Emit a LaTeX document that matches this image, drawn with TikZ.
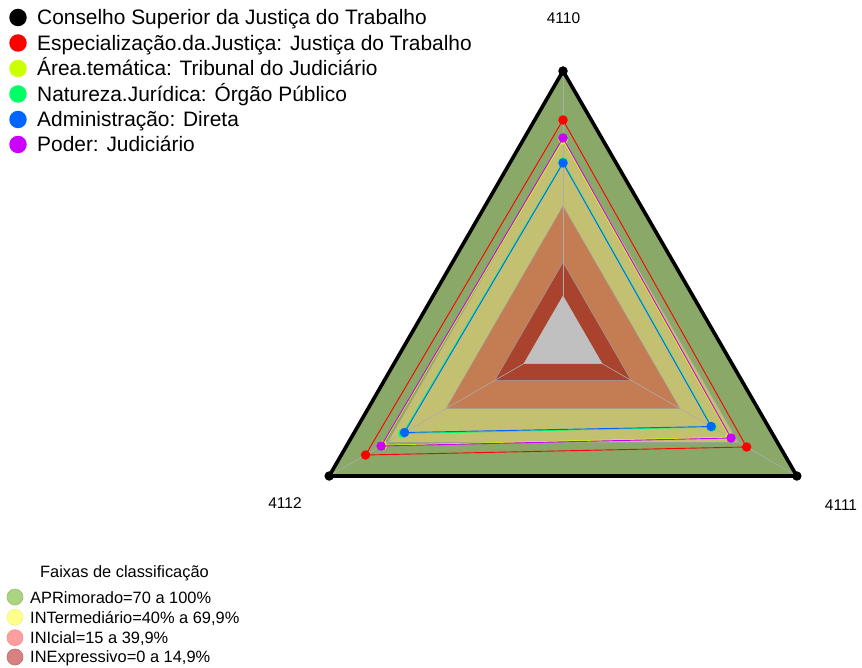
\documentclass[tikz,border=0pt]{standalone}
\usepackage{fontspec}
\setmainfont{Liberation Sans}
\definecolor{bgreen}{RGB}{138,168,104}
\definecolor{bolive}{RGB}{196,192,114}
\definecolor{borange}{RGB}{196,125,82}
\definecolor{bdred}{RGB}{170,67,45}
\definecolor{bgray}{RGB}{192,192,192}
\definecolor{sred}{HTML}{FF0000}
\definecolor{syel}{HTML}{CCFF00}
\definecolor{sgrn}{HTML}{00FF66}
\definecolor{sblu}{HTML}{0066FF}
\definecolor{smag}{HTML}{CC00FF}
\definecolor{lgreen}{RGB}{170,212,127}
\definecolor{lyellow}{RGB}{255,255,140}
\definecolor{lpink}{RGB}{255,158,158}
\definecolor{ldpink}{RGB}{217,128,128}
\begin{document}
\begin{tikzpicture}[x=1pt,y=-1pt,
  band/.style={draw=gray!75, line width=0.5pt},
  axisline/.style={draw=gray!65, line width=0.6pt},
  serie/.style={line width=0.9pt, line join=round},
  dot/.style={circle, inner sep=0pt, minimum size=9.5pt},
  lgtext/.style={anchor=base west, inner sep=0pt, font=\fontsize{20.9}{24}\selectfont},
  lbtext/.style={anchor=base west, inner sep=0pt, font=\fontsize{16.4}{19}\selectfont},
  ticktext/.style={anchor=base, inner sep=0pt, font=\fontsize{15.5}{18}\selectfont},
  lgdot/.style={circle, inner sep=0pt, minimum size=17.5pt},
  lbdot/.style={circle, inner sep=0pt, minimum size=16pt, line width=0.6pt}]
\useasboundingbox (0,0) rectangle (862,668);
\fill[white] (0,0) rectangle (862,668);
\coordinate (c) at (563,341);
\begin{scope}[shift={(563,341)}]
  % bands
  \filldraw[band, fill=bgreen]  (-90:270) -- (30:270) -- (150:270) -- cycle;
  \filldraw[band, fill=bolive]  (-90:202.5) -- (30:202.5) -- (150:202.5) -- cycle;
  \filldraw[band, fill=borange] (-90:135) -- (30:135) -- (150:135) -- cycle;
  \filldraw[band, fill=bdred]   (-90:78.75) -- (30:78.75) -- (150:78.75) -- cycle;
  \filldraw[band, fill=bgray, draw=bgray] (-90:45) -- (30:45) -- (150:45) -- cycle;
  % axes
  \coordinate (a0) at (-90:270);
  \coordinate (a1) at (30:270);
  \coordinate (a2) at (150:270);
  \coordinate (i0) at (-90:45);
  \coordinate (i1) at (30:45);
  \coordinate (i2) at (150:45);
  \draw[axisline] (i0) -- (a0);
  \draw[axisline] (i1) -- (a1);
  \draw[axisline] (i2) -- (a2);
  % black series
  \draw[line width=3.6pt, line join=miter] (a0) -- (a1) -- (a2) -- cycle;
  \foreach \p in {a0,a1,a2} \node[dot, fill=black] at (\p) {};
  % red
  \coordinate (r0) at (-90:221); \coordinate (r1) at (30:212); \coordinate (r2) at (150:228);
  \draw[serie, sred] (r0) -- (r1) -- (r2) -- cycle;
  \foreach \p in {r0,r1,r2} \node[dot, fill=sred] at (\p) {};
  % yellow
  \coordinate (y0) at (-90:201); \coordinate (y1) at (30:192.5); \coordinate (y2) at (150:208.5);
  \draw[serie, syel] (y0) -- (y1) -- (y2) -- cycle;
  \foreach \p in {y0,y1,y2} \node[dot, fill=syel] at (\p) {};
  % green
  \coordinate (g0) at (-90:179); \coordinate (g1) at (30:172); \coordinate (g2) at (150:185);
  \draw[serie, sgrn] (g0) -- (g1) -- (g2) -- cycle;
  \foreach \p in {g0,g1,g2} \node[dot, fill=sgrn] at (\p) {};
  % blue
  \coordinate (b0) at (-90:178); \coordinate (b1) at (30:171); \coordinate (b2) at (150:183);
  \draw[serie, sblu] (b0) -- (b1) -- (b2) -- cycle;
  \foreach \p in {b0,b1,b2} \node[dot, fill=sblu] at (\p) {};
  % magenta
  \coordinate (m0) at (-90:203); \coordinate (m1) at (30:194); \coordinate (m2) at (150:210);
  \draw[serie, smag] (m0) -- (m1) -- (m2) -- cycle;
  \foreach \p in {m0,m1,m2} \node[dot, fill=smag] at (\p) {};
\end{scope}
% axis labels
\node[ticktext] (l0) at (563.5,23.6) {4110};
\node[ticktext] (l1) at (841,510.6) {4111};
\node[ticktext] (l2) at (285,508.6) {4112};
% top legend
\node[lgdot, fill=black] (d1) at (18,17.5) {};
\node[lgtext] (t1) at (37,25) {Conselho Superior da Justiça do Trabalho};
\node[lgdot, fill=sred] (d2) at (18,43) {};
\node[lgtext] (t2) at (37,50.5) {Especialização.da.Justiça: Justiça do Trabalho};
\node[lgdot, fill=syel] (d3) at (18,68.5) {};
\node[lgtext] (t3) at (37,76) {Área.temática: Tribunal do Judiciário};
\node[lgdot, fill=sgrn] (d4) at (18,94) {};
\node[lgtext] (t4) at (37,101.5) {Natureza.Jurídica: Órgão Público};
\node[lgdot, fill=sblu] (d5) at (18,119.5) {};
\node[lgtext] (t5) at (37,127) {Administração: Direta};
\node[lgdot, fill=smag] (d6) at (18,144.5) {};
\node[lgtext] (t6) at (37,152) {Poder: Judiciário};
% bottom legend
\node[lbtext] (bt) at (40,577.6) {Faixas de classificação};
\node[lbdot, fill=lgreen, draw=lgreen!90!black] (e1) at (15,597) {};
\node[lbtext] (f1) at (30,603) {APRimorado=70 a 100\%};
\node[lbdot, fill=lyellow, draw=lyellow!95!black] (e2) at (15,617.3) {};
\node[lbtext] (f2) at (30,623.2) {INTermediário=40\% a 69,9\%};
\node[lbdot, fill=lpink, draw=lpink!92!black] (e3) at (15,637.7) {};
\node[lbtext] (f3) at (30,643.6) {INIcial=15 a 39,9\%};
\node[lbdot, fill=ldpink, draw=ldpink!85!black] (e4) at (15,657) {};
\node[lbtext] (f4) at (30,662.9) {INExpressivo=0 a 14,9\%};
\end{tikzpicture}
\end{document}
